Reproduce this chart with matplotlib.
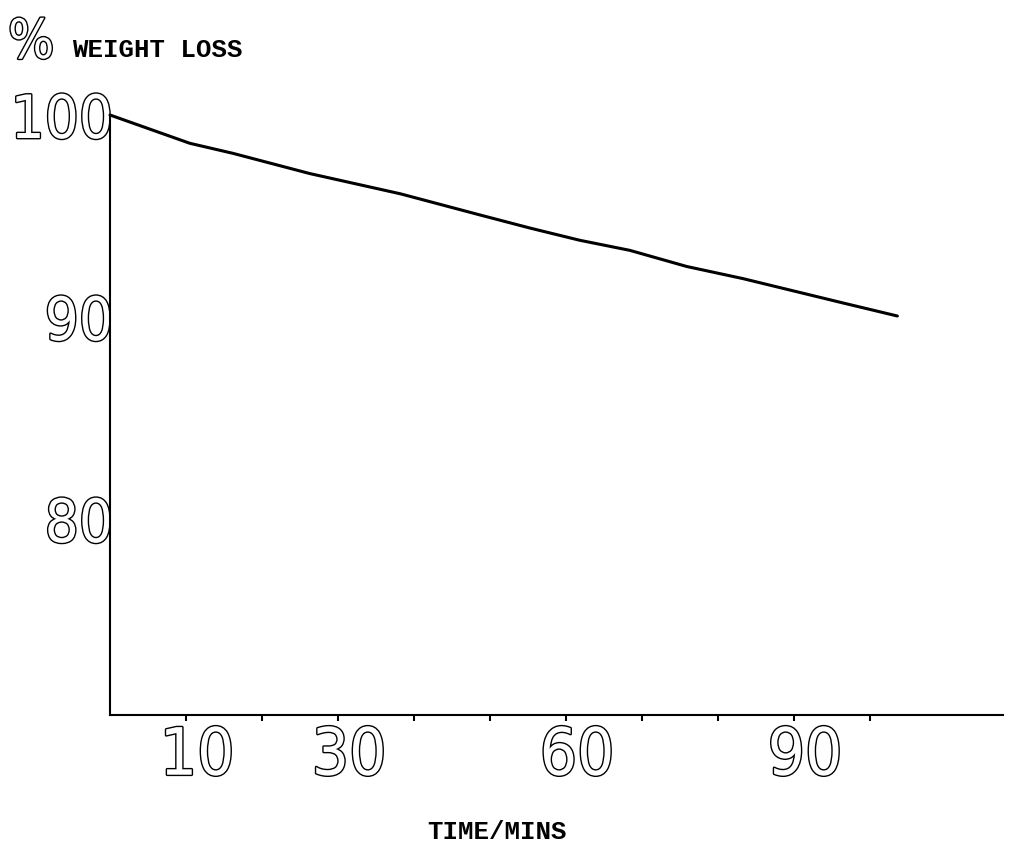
import matplotlib
matplotlib.use("Agg")
import matplotlib.pyplot as plt
import matplotlib.patheffects as pe
import matplotlib.transforms as mtransforms
from matplotlib import font_manager
from matplotlib.font_manager import FontProperties

# ---- data ----
time_min = [0, 10.5, 16.2, 26.3, 38.2, 48.7, 55.3, 61.8, 68.4, 75.9, 83.3, 96.4, 103.6]
weight_pct = [100, 98.6, 98.1, 97.1, 96.1, 95.05, 94.4, 93.8, 93.3, 92.5, 91.9, 90.7, 90.05]
x_ticks = [10, 20, 30, 40, 50, 60, 70, 80, 90, 100]
x_tick_labels = ["10", "", "30", "", "", "60", "", "", "90", ""]
y_ticks = [80, 90, 100]
y_tick_labels = ["80", "90", "100"]
y_title = "% WEIGHT LOSS"
x_title = "TIME/MINS"

# ---- fonts ----
def find_font(cands):
    for cand in cands:
        for f in font_manager.fontManager.ttflist:
            if cand(f):
                return FontProperties(fname=f.fname)
    return None

base_fp = find_font([
    lambda f: f.name == "Liberation Sans Narrow" and f.weight in (400, "normal") and f.style == "normal",
    lambda f: "DejaVuSansCondensed.ttf" in f.fname,
    lambda f: f.name == "Liberation Sans" and f.weight in (400, "normal") and f.style == "normal",
]) or FontProperties(family="DejaVu Sans")

xdigit_fp = base_fp.copy()
xdigit_fp.set_size(47)
ydigit_fp = base_fp.copy()
ydigit_fp.set_size(43)
pct_fp = base_fp.copy()
pct_fp.set_size(39)

mono_fp = FontProperties(family=["Liberation Mono", "DejaVu Sans Mono"], weight="bold", size=18.5)

outline = [pe.withStroke(linewidth=2.0, foreground="black")]

W, H = 1010, 851
fig = plt.figure(figsize=(W / 100, H / 100), dpi=100)
ax = fig.add_axes([110 / W, 1 - 715 / H, (1003 - 110) / W, (715 - 115) / H])

ax.plot(time_min, weight_pct, color="black", lw=2.2, clip_on=False, solid_capstyle="round")

ax.set_xlim(0, 117.5)
ax.set_ylim(70.3, 100)

for s in ["top", "right"]:
    ax.spines[s].set_visible(False)
for s in ["left", "bottom"]:
    ax.spines[s].set_linewidth(1.5)

ax.set_xticks(x_ticks)
ax.set_xticklabels(x_tick_labels)
ax.set_yticks(y_ticks)
ax.set_yticklabels(y_tick_labels)
ax.tick_params(axis="x", direction="out", length=4, width=1.5, pad=3)
ax.tick_params(axis="y", length=0, pad=-2)

shift = mtransforms.ScaledTranslation(0.11, 0, fig.dpi_scale_trans)
for lab in ax.get_xticklabels():
    lab.set_fontproperties(xdigit_fp)
    lab.set_color("white")
    lab.set_path_effects(outline)
    lab.set_transform(lab.get_transform() + shift)
for lab in ax.get_yticklabels():
    lab.set_fontproperties(ydigit_fp)
    lab.set_color("white")
    lab.set_path_effects(outline)
    lab.set_zorder(1)

# axis titles
fig.text(8 / W, 1 - 58 / H, y_title[0], fontproperties=pct_fp, color="white",
         path_effects=outline, ha="left", va="baseline")
fig.text(72 / W, 1 - 57 / H, y_title[2:], fontproperties=mono_fp, color="black",
         ha="left", va="baseline")
fig.text(497 / W, 1 - 839 / H, x_title, fontproperties=mono_fp, color="black",
         ha="center", va="baseline")

fig.savefig("out.png", dpi=100, facecolor="white")
